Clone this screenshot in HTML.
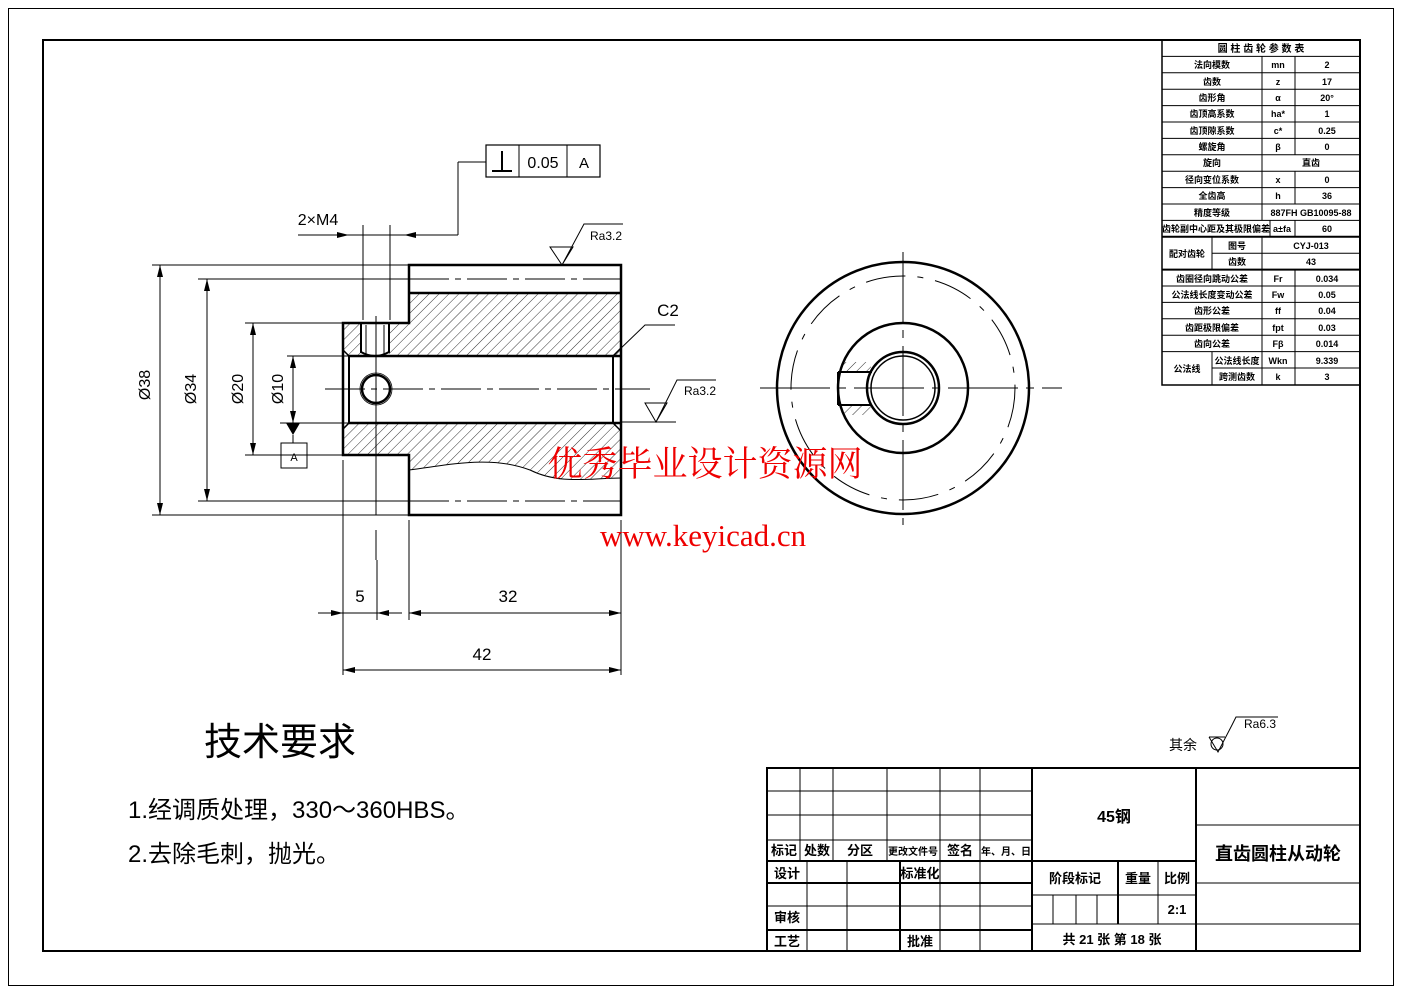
<!DOCTYPE html>
<html><head><meta charset="utf-8"><style>
html,body{margin:0;padding:0;background:#fff}
svg{display:block}
text{font-family:"Liberation Sans Narrow","Liberation Sans","Noto Sans CJK SC",sans-serif;fill:#000}
.t{font-size:9px;font-weight:bold;text-anchor:middle}
</style></head><body>
<svg width="1403" height="992" viewBox="0 0 1403 992" xmlns="http://www.w3.org/2000/svg">
<defs>
<pattern id="h" width="7" height="7" patternUnits="userSpaceOnUse" patternTransform="rotate(45)">
<line x1="0" y1="0" x2="0" y2="7" stroke="#000" stroke-width="0.8"/>
</pattern>
</defs>
<rect x="0" y="0" width="1403" height="992" fill="#fff"/>
<rect x="8.5" y="8.5" width="1385" height="977" fill="none" stroke="#000" stroke-width="1"/>
<rect x="43" y="40" width="1317" height="911" fill="none" stroke="#000" stroke-width="2"/>

<path d="M409,293 H621 V356 H409 Z" fill="url(#h)"/>
<path d="M343,323 H361 V356 H343 Z M389,323 H409 V356 H389 Z" fill="url(#h)"/>
<path d="M343,423 H617 L621,427 V478 C590,478 560,485 530,470 C490,455 450,465 409,470 V455 H343 Z" fill="url(#h)"/>

<g stroke="#000" fill="none">
<path d="M409,265 H621 V515 H409 V455 H343 V323 H409 Z" stroke-width="2.5"/>
<line x1="409" y1="293" x2="621" y2="293" stroke-width="2.5"/>
<line x1="349" y1="356" x2="621" y2="356" stroke-width="2.5"/>
<line x1="349" y1="423" x2="621" y2="423" stroke-width="2.5"/>
<line x1="349" y1="356" x2="349" y2="423" stroke-width="2"/>
<line x1="343" y1="350" x2="349" y2="356" stroke-width="1.5"/>
<line x1="343" y1="429" x2="349" y2="423" stroke-width="1.5"/>
<line x1="613" y1="356" x2="613" y2="423" stroke-width="2"/>
<line x1="613" y1="356" x2="621" y2="348" stroke-width="1.5"/>
<line x1="613" y1="423" x2="621" y2="431" stroke-width="1.5"/>
<path d="M409,470 C450,465 490,455 530,470 C560,485 590,478 621,478" stroke-width="1"/>
<path d="M361,323 V352 Q375,360 389,352 V323" stroke-width="2"/>
<line x1="366" y1="325" x2="366" y2="354" stroke-width="1"/>
<line x1="384" y1="325" x2="384" y2="354" stroke-width="1"/>
<circle cx="376" cy="389" r="14" stroke-width="2.5"/>
<circle cx="376" cy="389" r="16" stroke-width="0.8"/>
<line x1="325" y1="389" x2="650" y2="389" stroke-width="1" stroke-dasharray="40,6,6,6"/>
<line x1="409" y1="279" x2="621" y2="279" stroke-width="1" stroke-dasharray="40,6,6,6"/>
<line x1="409" y1="501" x2="621" y2="501" stroke-width="1" stroke-dasharray="40,6,6,6"/>
<line x1="376" y1="316" x2="376" y2="515" stroke-width="1"/>
<line x1="376" y1="530" x2="376" y2="560" stroke-width="1"/>

<g stroke-width="1">
<line x1="152" y1="265" x2="409" y2="265"/><line x1="152" y1="515" x2="409" y2="515"/>
<line x1="160" y1="265" x2="160" y2="515"/>
<line x1="198" y1="279" x2="409" y2="279"/><line x1="198" y1="501" x2="409" y2="501"/>
<line x1="207" y1="279" x2="207" y2="501"/>
<line x1="245" y1="323" x2="343" y2="323"/><line x1="245" y1="455" x2="343" y2="455"/>
<line x1="253" y1="323" x2="253" y2="455"/>
<line x1="287" y1="356" x2="349" y2="356"/><line x1="293" y1="356" x2="293" y2="423"/>
<line x1="280" y1="423" x2="349" y2="423"/>
<line x1="278" y1="455" x2="343" y2="455"/>
<line x1="298" y1="235" x2="458" y2="235"/>
<line x1="458" y1="235" x2="458" y2="162"/><line x1="458" y1="162" x2="486" y2="162"/>
<line x1="363" y1="225" x2="363" y2="320"/><line x1="390" y1="225" x2="390" y2="320"/>
<line x1="343" y1="460" x2="343" y2="675"/><line x1="409" y1="520" x2="409" y2="620"/>
<line x1="621" y1="520" x2="621" y2="675"/><line x1="377" y1="560" x2="377" y2="620"/>
<line x1="318" y1="613" x2="402" y2="613"/><line x1="409" y1="613" x2="621" y2="613"/>
<line x1="343" y1="670" x2="621" y2="670"/>
<path d="M550,247 H573 L562,265 Z M562,265 L584,224 H623"/>
<path d="M645,403 H667 L656,422 Z M656,422 L677,380 H716"/>
<line x1="621" y1="422" x2="676" y2="422"/>
<path d="M617,352 L645,325 H675"/>
<path d="M1209,737 L1218,752 L1232,725 L1236,717 H1278"/>
<path d="M1209,737 L1225,737"/>
<circle cx="1217" cy="744" r="6"/>
</g>
<rect x="486" y="145" width="114" height="32" stroke-width="1.2"/>
<line x1="519" y1="145" x2="519" y2="177" stroke-width="1"/>
<line x1="567" y1="145" x2="567" y2="177" stroke-width="1"/>
<path d="M492,171 H512 M502,171 V151" stroke-width="2"/>
<rect x="281" y="443" width="26" height="25" stroke-width="1"/>

<circle cx="903" cy="388" r="126" stroke-width="2.5"/>
<circle cx="903" cy="388" r="112" stroke-width="1" stroke-dasharray="40,12,6,12"/>
<circle cx="903" cy="388" r="65" stroke-width="2.5"/>
<circle cx="903" cy="388" r="36" stroke-width="2.5"/>
<circle cx="903" cy="388" r="32" stroke-width="1.5"/>
<line x1="760" y1="388" x2="1062" y2="388" stroke-width="1" stroke-dasharray="70,8,8,8"/>
<line x1="903" y1="252" x2="903" y2="525" stroke-width="1" stroke-dasharray="70,8,8,8"/>
<path d="M838,372 H872 M838,405 H872 M838,372 V405" stroke-width="2"/>
</g>
<rect x="843" y="362" width="28" height="9" fill="url(#h)"/>
<rect x="843" y="406" width="28" height="9" fill="url(#h)"/>
<g fill="#000">
<path d="M160,265 l-3,12 h6 Z M160,515 l-3,-12 h6 Z"/>
<path d="M207,279 l-3,12 h6 Z M207,501 l-3,-12 h6 Z"/>
<path d="M253,323 l-3,12 h6 Z M253,455 l-3,-12 h6 Z"/>
<path d="M293,356 l-3,12 h6 Z M293,423 l-3,-12 h6 Z M286,423 h14 l-7,12 Z"/>
<path d="M343,613 l-12,-3 v6 Z M377,613 l12,-3 v6 Z M409,613 l12,-3 v6 Z M621,613 l-12,-3 v6 Z"/>
<path d="M343,670 l12,-3 v6 Z M621,670 l-12,-3 v6 Z"/>
<path d="M349,235 l-12,-3 v6 Z M404,235 l12,-3 v6 Z"/>
</g>
<line x1="293" y1="435" x2="293" y2="443" stroke="#000"/>

<text x="543" y="168" font-size="16" text-anchor="middle">0.05</text>
<text x="584" y="168" font-size="15" text-anchor="middle">A</text>
<text x="318" y="225" font-size="16" text-anchor="middle">2×M4</text>
<text x="294" y="461" font-size="11" text-anchor="middle">A</text>
<text x="590" y="240" font-size="12">Ra3.2</text>
<text x="700" y="395" font-size="12" text-anchor="middle">Ra3.2</text>
<text x="668" y="316" font-size="17" text-anchor="middle">C2</text>
<text x="1260" y="728" font-size="12" text-anchor="middle">Ra6.3</text>
<text x="1183" y="750" font-size="14" text-anchor="middle">其余</text>
<text transform="translate(150,385) rotate(-90)" font-size="16" text-anchor="middle">Ø38</text>
<text transform="translate(196,389) rotate(-90)" font-size="16" text-anchor="middle">Ø34</text>
<text transform="translate(243,389) rotate(-90)" font-size="16" text-anchor="middle">Ø20</text>
<text transform="translate(283,389) rotate(-90)" font-size="16" text-anchor="middle">Ø10</text>
<text x="360" y="602" font-size="17" text-anchor="middle">5</text>
<text x="508" y="602" font-size="17" text-anchor="middle">32</text>
<text x="482" y="660" font-size="17" text-anchor="middle">42</text>

<text x="705" y="476" font-size="35" text-anchor="middle" style="fill:#e00;font-family:'Noto Serif CJK SC','Noto Sans CJK SC',serif">优秀毕业设计资源网</text>
<text x="703" y="546" font-size="31" text-anchor="middle" style="fill:#e00;font-family:'Liberation Serif',serif">www.keyicad.cn</text>

<text x="280" y="755" font-size="38" text-anchor="middle">技术要求</text>
<text x="128" y="818" font-size="24">1.经调质处理，330～360HBS。</text>
<text x="128" y="862" font-size="24">2.去除毛刺，抛光。</text>

<g stroke="#000" fill="none" stroke-width="1">
<rect x="1162" y="40" width="198" height="345" stroke-width="1.5"/>
<path d="M1162,56.4H1360 M1162,72.8H1360 M1162,89.2H1360 M1162,105.6H1360 M1162,122H1360 M1162,138.4H1360 M1162,154.8H1360 M1162,171.2H1360 M1162,187.6H1360 M1162,204H1360 M1162,220.4H1360 M1212,253.2H1360 M1162,286H1360 M1162,302.4H1360 M1162,318.8H1360 M1162,335.2H1360 M1162,351.6H1360 M1212,368H1360"/>
<path d="M1162,236.8H1360 M1162,269.6H1360" stroke-width="2"/>
<path d="M1262,56.4V154.8 M1295,56.4V154.8 M1262,154.8V171.2 M1262,171.2V204 M1295,171.2V204 M1262,204V220.4 M1270,220.4V236.8 M1295,220.4V236.8 M1212,236.8V269.6 M1262,236.8V269.6 M1262,269.6V385 M1295,269.6V385 M1212,351.6V385"/>
</g>
<g class="t">
<text x="1261" y="52" font-size="10">圆 柱 齿 轮 参 数 表</text>
<text class="t" x="1212" y="68">法向模数</text><text class="t" x="1278" y="68">mn</text><text class="t" x="1327" y="68">2</text>
<text class="t" x="1212" y="85">齿数</text><text class="t" x="1278" y="85">z</text><text class="t" x="1327" y="85">17</text>
<text class="t" x="1212" y="101">齿形角</text><text class="t" x="1278" y="101">α</text><text class="t" x="1327" y="101">20°</text>
<text class="t" x="1212" y="117">齿顶高系数</text><text class="t" x="1278" y="117">ha*</text><text class="t" x="1327" y="117">1</text>
<text class="t" x="1212" y="134">齿顶隙系数</text><text class="t" x="1278" y="134">c*</text><text class="t" x="1327" y="134">0.25</text>
<text class="t" x="1212" y="150">螺旋角</text><text class="t" x="1278" y="150">β</text><text class="t" x="1327" y="150">0</text>
<text class="t" x="1212" y="166">旋向</text><text class="t" x="1311" y="166">直齿</text>
<text class="t" x="1212" y="183">径向变位系数</text><text class="t" x="1278" y="183">x</text><text class="t" x="1327" y="183">0</text>
<text class="t" x="1212" y="199">全齿高</text><text class="t" x="1278" y="199">h</text><text class="t" x="1327" y="199">36</text>
<text class="t" x="1212" y="216">精度等级</text><text class="t" x="1311" y="216">887FH GB10095-88</text>
<text class="t" x="1216" y="232" font-size="8">齿轮副中心距及其极限偏差</text><text class="t" x="1282" y="232">a±fa</text><text class="t" x="1327" y="232">60</text>
<text class="t" x="1187" y="257">配对齿轮</text>
<text class="t" x="1237" y="249">图号</text><text class="t" x="1311" y="249">CYJ-013</text>
<text class="t" x="1237" y="265">齿数</text><text class="t" x="1311" y="265">43</text>
<text class="t" x="1212" y="282">齿圈径向跳动公差</text><text class="t" x="1278" y="282">Fr</text><text class="t" x="1327" y="282">0.034</text>
<text class="t" x="1212" y="298">公法线长度变动公差</text><text class="t" x="1278" y="298">Fw</text><text class="t" x="1327" y="298">0.05</text>
<text class="t" x="1212" y="314">齿形公差</text><text class="t" x="1278" y="314">ff</text><text class="t" x="1327" y="314">0.04</text>
<text class="t" x="1212" y="331">齿距极限偏差</text><text class="t" x="1278" y="331">fpt</text><text class="t" x="1327" y="331">0.03</text>
<text class="t" x="1212" y="347">齿向公差</text><text class="t" x="1278" y="347">Fβ</text><text class="t" x="1327" y="347">0.014</text>
<text class="t" x="1187" y="372">公法线</text>
<text class="t" x="1237" y="364">公法线长度</text><text class="t" x="1278" y="364">Wkn</text><text class="t" x="1327" y="364">9.339</text>
<text class="t" x="1237" y="380">跨测齿数</text><text class="t" x="1278" y="380">k</text><text class="t" x="1327" y="380">3</text>
</g>

<g stroke="#000" fill="none">
<rect x="767" y="768" width="593" height="183" stroke-width="2"/>
<path d="M767,791H1032 M767,815H1032 M767,840H1032 M767,906H1032 M1032,895H1196 M1032,924H1196 M1196,825H1360 M1196,883H1360 M1196,924H1360" stroke-width="1"/>
<path d="M767,861H1032 M767,883H1032 M767,930H1032 M1032,861H1196" stroke-width="2"/>
<path d="M800,768V861 M833,768V861 M887,768V861 M940,768V861 M980,768V861 M807,861V951 M847,861V951 M940,861V951 M980,861V951 M1053,895V924 M1076,895V924 M1097,895V924 M1158,861V924" stroke-width="1"/>
<path d="M1032,768V951 M1196,768V951 M900,861V951 M1118,861V924" stroke-width="2"/>
</g>
<g style="font-weight:bold;text-anchor:middle" font-size="13">
<text x="784" y="855">标记</text><text x="817" y="855">处数</text><text x="860" y="855">分区</text><text x="913" y="855" font-size="10">更改文件号</text><text x="960" y="855">签名</text><text x="1006" y="855" font-size="10">年、月、日</text>
<text x="787" y="878">设计</text><text x="920" y="878">标准化</text>
<text x="787" y="922">审核</text><text x="787" y="946">工艺</text><text x="920" y="946">批准</text>
<text x="1114" y="822" font-size="16">45钢</text>
<text x="1075" y="883">阶段标记</text><text x="1138" y="883">重量</text><text x="1177" y="883">比例</text>
<text x="1177" y="914">2:1</text>
<text x="1112" y="944">共  21  张      第  18  张</text>
<text x="1278" y="860" font-size="18">直齿圆柱从动轮</text>
</g>
</svg>
</body></html>
